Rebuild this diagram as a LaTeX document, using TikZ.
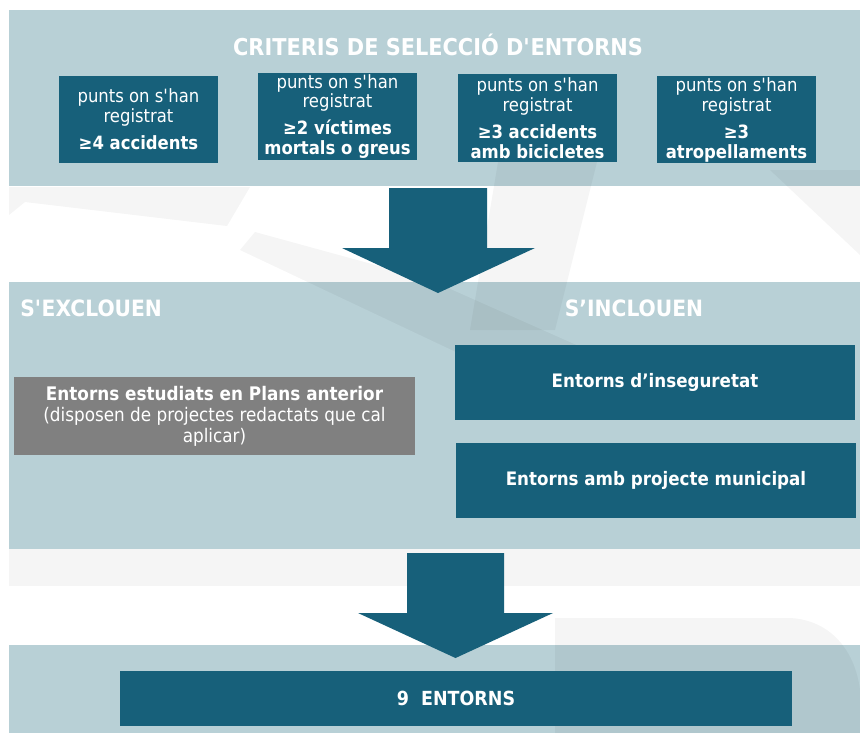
\documentclass[tikz,border=0pt]{standalone}
\usepackage{fontspec}
\setmainfont[FakeStretch=0.9]{DejaVu Sans}
\usepackage{xcolor}
\definecolor{entteal}{HTML}{17607A}
\definecolor{entband}{HTML}{B8D0D6}
\definecolor{entgrey}{HTML}{808080}
\newcommand{\apos}{\textquotesingle}

\begin{document}
\begin{tikzpicture}[x=0.025cm,y=-0.025cm,
  band/.style={fill=entband},
  wmark/.style={fill=black,fill opacity=0.04},
  blockarrow/.style={fill=entteal},
  headtxt/.style={text=white,inner sep=0pt,font=\fontsize{16}{18}\selectfont\bfseries},
  critbox/.style={fill=entteal,text=white,inner sep=0pt,align=center,
    minimum width=3.975cm,minimum height=2.175cm,font=\fontsize{13}{14.2}\selectfont},
  entbox/.style={fill=entteal,text=white,inner sep=0pt,align=center,
    minimum width=10cm,minimum height=1.875cm,font=\fontsize{13.2}{15}\selectfont\bfseries},
  greybox/.style={fill=entgrey,text=white,inner sep=0pt,align=center,
    minimum width=10.025cm,minimum height=1.95cm,font=\fontsize{13.3}{14.9}\selectfont}]
\useasboundingbox (0,0) rectangle (860,733);
\fill[white] (0,0) rectangle (860,733);
\fill[band] (9,10) rectangle (860,186);
\fill[band] (9,282) rectangle (860,549);
\fill[band] (9,645) rectangle (860,733);
% faint logo in the background
\fill[wmark] (9,187) -- (250,187) -- (227,226) -- (25,202) -- (9,215) -- cycle;
\fill[wmark] (255,232) -- (430,280) -- (610,360) -- (600,420) -- (240,250) -- cycle;
\fill[wmark] (500,150) -- (600,150) -- (555,330) -- (470,330) -- cycle;
\fill[wmark] (770,170) -- (860,170) -- (860,255) -- cycle;
\fill[wmark] (9,549) rectangle (860,586);
\fill[wmark] (555,618) -- (790,618) .. controls (830,620) and (855,650) .. (860,690) -- (860,733) -- (555,733) -- cycle;

\node[headtxt,font=\fontsize{16.5}{18}\selectfont\bfseries] (titol) at (438,45) {CRITERIS DE SELECCIÓ D\apos ENTORNS};
\node[critbox] (crit1) at (138.5,119.5) {punts on s\apos han\\registrat\\[5pt]\textbf{≥4 accidents}};
\node[critbox] (crit2) at (337.5,116.5) {punts on s\apos han\\registrat\\[5pt]\textbf{≥2 víctimes}\\\textbf{mortals o greus}};
\node[critbox] (crit3) at (537.5,118) {punts on s\apos han\\registrat\\[5pt]\textbf{≥3 accidents}\\\textbf{amb bicicletes}};
\node[critbox] (crit4) at (736.5,119.5) {punts on s\apos han\\registrat\\[5pt]\textbf{≥3}\\\textbf{atropellaments}};

\fill[blockarrow] (389,188) -- (487,188) -- (487,248) -- (535,248) -- (438,293) -- (342,248) -- (389,248) -- cycle;

\node[headtxt,anchor=west] (exclouen) at (20,308) {S\apos EXCLOUEN};
\node[headtxt] (inclouen) at (634,308) {S’INCLOUEN};
\node[greybox] (anterior) at (214.5,416) {\textbf{Entorns estudiats en Plans anterior}\\(disposen de projectes redactats que cal\\aplicar)};
\node[entbox] (insegur) at (655,382.5) {Entorns d’inseguretat};
\node[entbox] (municipal) at (656,480.5) {Entorns amb projecte municipal};

\fill[blockarrow] (407,553) -- (504,553) -- (504,613) -- (553,613) -- (455.5,658) -- (358,613) -- (407,613) -- cycle;

\node[entbox,minimum width=16.8cm,minimum height=1.375cm,font=\fontsize{13.8}{15}\selectfont\bfseries] (total) at (456,698.5) {9~~ENTORNS};
\end{tikzpicture}
\end{document}
